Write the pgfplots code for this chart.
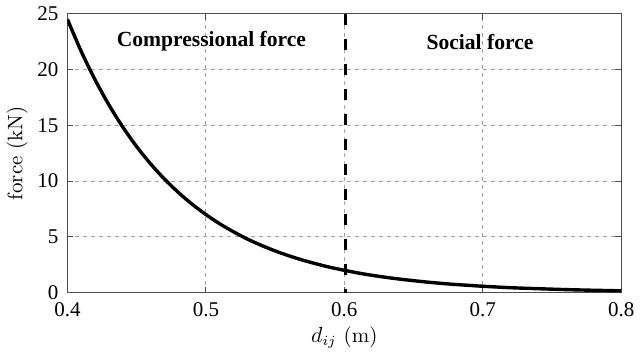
\documentclass[border=0pt]{standalone}
\usepackage{fontspec}
\setmainfont{Liberation Serif}
\newfontfamily\lmr{Latin Modern Roman}
\usepackage{pgfplots}
\pgfplotsset{compat=1.18}
\begin{document}
\begin{tikzpicture}
\begin{axis}[
  scale only axis,
  width=277pt, height=139.5pt,
  xmin=0.4, xmax=0.8, ymin=0, ymax=25,
  xtick={0.4,0.5,0.6,0.7,0.8},
  ytick={0,5,10,15,20,25},
  xticklabel style={/pgf/number format/fixed,/pgf/number format/precision=1, yshift=-1.5pt},
  yticklabel style={xshift=-1pt},
  /pgf/number format/assume math mode=true,
  tick label style={font=\fontsize{10.5}{12}\selectfont},
  tick align=inside, tick pos=both,
  major tick length=3pt,
  axis line style={draw=black!70, line width=0.6pt},
  every tick/.style={black!70, line width=0.5pt},
  grid=major,
  major grid style={gray!70, dashed, line width=0.4pt, dash pattern=on 2pt off 2pt},
  xlabel={\lmr $d_{ij}$ (m)},
  ylabel={\lmr force (kN)},
  label style={font=\fontsize{10.5}{12}\selectfont},
  xlabel style={yshift=2pt},
  ylabel style={yshift=-2pt},
  clip=true,
]
\addplot[black, line width=1.7pt, smooth] coordinates {
(0.40,24.50) (0.41,21.61) (0.42,19.07) (0.43,16.82) (0.44,14.84) (0.45,13.09)
(0.46,11.55) (0.47,10.19) (0.48,8.99) (0.49,7.93) (0.50,7.00) (0.51,6.17)
(0.52,5.45) (0.53,4.80) (0.54,4.24) (0.55,3.74) (0.56,3.30) (0.57,2.91)
(0.58,2.57) (0.59,2.26) (0.60,2.00) (0.61,1.76) (0.62,1.55) (0.63,1.37)
(0.64,1.21) (0.65,1.07) (0.66,0.94) (0.67,0.83) (0.68,0.73) (0.69,0.65)
(0.70,0.57) (0.72,0.44) (0.74,0.35) (0.76,0.27) (0.78,0.21) (0.80,0.16)
};
\addplot[black, line width=1.4pt, dash pattern=on 5.5pt off 7pt] coordinates {(0.601,25) (0.601,0)};
\node[font=\fontsize{10.8}{12}\selectfont\bfseries] at (axis cs:0.504,22.5) {Compressional force};
\node[font=\fontsize{10.8}{12}\selectfont\bfseries] at (axis cs:0.698,22.5) {Social force};
\end{axis}
\end{tikzpicture}
\end{document}
